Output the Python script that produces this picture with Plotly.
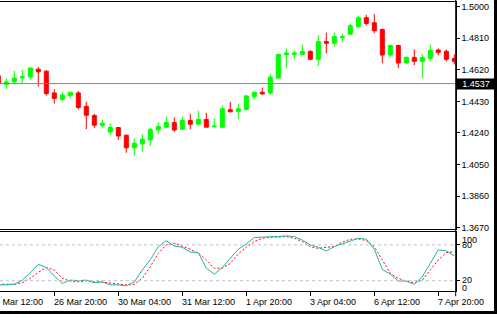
import datetime as dt
import plotly.graph_objects as go

# ---------------- data ----------------
opens = [1.4560, 1.4584, 1.4533, 1.4547, 1.4572, 1.4578, 1.4624, 1.4612, 1.4481, 1.4442,
         1.4465, 1.4481, 1.4400, 1.4345, 1.4287, 1.4246, 1.4273, 1.4226, 1.4151, 1.4174,
         1.4198, 1.4258, 1.4275, 1.4303, 1.4263, 1.4315, 1.4293, 1.4321, 1.4277, 1.4275,
         1.4380, 1.4370, 1.4382, 1.4459, 1.4485, 1.4481, 1.4570, 1.4711, 1.4713, 1.4713,
         1.4731, 1.4683, 1.4790, 1.4780, 1.4814, 1.4834, 1.4879, 1.4933, 1.4903, 1.4863,
         1.4709, 1.4766, 1.4661, 1.4695, 1.4671, 1.4689, 1.4739, 1.4731, 1.4689]
highs = [1.4592, 1.4588, 1.4570, 1.4614, 1.4620, 1.4638, 1.4638, 1.4618, 1.4505, 1.4485,
         1.4485, 1.4493, 1.4428, 1.4356, 1.4321, 1.4295, 1.4273, 1.4232, 1.4208, 1.4232,
         1.4271, 1.4303, 1.4339, 1.4333, 1.4339, 1.4356, 1.4374, 1.4362, 1.4327, 1.4404,
         1.4428, 1.4416, 1.4470, 1.4489, 1.4513, 1.4594, 1.4713, 1.4749, 1.4737, 1.4772,
         1.4737, 1.4828, 1.4844, 1.4844, 1.4838, 1.4897, 1.4945, 1.4951, 1.4956, 1.4867,
         1.4772, 1.4772, 1.4701, 1.4743, 1.4713, 1.4772, 1.4749, 1.4743, 1.4713]
lows = [1.4552, 1.4535, 1.4505, 1.4535, 1.4541, 1.4564, 1.4519, 1.4465, 1.4418, 1.4430,
        1.4448, 1.4382, 1.4263, 1.4269, 1.4275, 1.4228, 1.4198, 1.4121, 1.4103, 1.4127,
        1.4162, 1.4234, 1.4269, 1.4246, 1.4258, 1.4263, 1.4285, 1.4275, 1.4275, 1.4269,
        1.4362, 1.4323, 1.4378, 1.4442, 1.4471, 1.4471, 1.4570, 1.4630, 1.4683, 1.4707,
        1.4677, 1.4644, 1.4719, 1.4760, 1.4786, 1.4832, 1.4879, 1.4887, 1.4840, 1.4659,
        1.4695, 1.4630, 1.4659, 1.4648, 1.4570, 1.4671, 1.4707, 1.4671, 1.4653]
closes = [1.4584, 1.4539, 1.4547, 1.4570, 1.4578, 1.4630, 1.4608, 1.4477, 1.4448, 1.4469,
          1.4485, 1.4394, 1.4347, 1.4287, 1.4299, 1.4273, 1.4222, 1.4151, 1.4178, 1.4202,
          1.4261, 1.4279, 1.4303, 1.4258, 1.4315, 1.4293, 1.4321, 1.4275, 1.4281, 1.4386,
          1.4368, 1.4386, 1.4463, 1.4485, 1.4475, 1.4576, 1.4713, 1.4721, 1.4721, 1.4731,
          1.4683, 1.4790, 1.4780, 1.4820, 1.4820, 1.4885, 1.4933, 1.4899, 1.4855, 1.4709,
          1.4766, 1.4661, 1.4695, 1.4671, 1.4695, 1.4737, 1.4725, 1.4683, 1.4671]

stoch_main = [12, 12.7, 12.7, 14, 21, 33, 47.5, 42, 28, 15.5,
              21, 20, 21, 16.6, 18, 13, 13, 11.6, 18, 38,
              55, 77, 87, 78, 76, 68, 67, 41, 31, 42,
              57.6, 72.7, 81.7, 92.3, 93, 93, 94, 95, 94, 88,
              80, 76, 70, 77, 82, 87, 91, 89.5, 72.7, 39,
              31, 19.4, 19.4, 14, 26.7, 49, 71.6, 70, 61.5]
stoch_signal = [14, 14, 14, 14, 16.6, 24, 34, 42, 38, 24,
                19.4, 18, 20, 18, 17.8, 16.6, 14.4, 12.7, 14, 24,
                43.5, 66, 80, 82.8, 78, 72.7, 66, 54.8, 41, 41,
                49, 65, 76, 85.6, 91, 93, 93, 94, 91, 85.6,
                77, 74, 76, 77, 84.5, 89.5, 90, 87, 77, 54.8,
                32.3, 24, 19.4, 16.6, 21, 38, 54.8, 67, 68.8]

price_ticks = [1.5000, 1.4810, 1.4620, 1.4430, 1.4240, 1.4050, 1.3860, 1.3670]
price_line = 1.4537
stoch_levels = [80, 20]
stoch_labels = [100, 80, 20, 0]
time_labels = ["25 Mar 12:00", "26 Mar 20:00", "30 Mar 04:00", "31 Mar 12:00",
               "1 Apr 20:00", "3 Apr 04:00", "6 Apr 12:00", "7 Apr 20:00"]

# 4-hour bars, weekends skipped
times = []
t = dt.datetime(2015, 3, 25, 12)
while len(times) < len(opens):
    if t.weekday() < 5:
        times.append(t)
    t += dt.timedelta(hours=4)
time_str = [f"{d.day} {d:%b %H:%M}" for d in times]
idx = list(range(len(times)))

# ---------------- layout geometry ----------------
W, H = 497, 318
x_dom = [0, 455.7 / W]
main_dom = [1 - 232 / H, 1 - 2 / H]
ind_dom = [1 - 294.5 / H, 1 - 235.3 / H]
x_range = [1.2125, 58.175]
y2_range = [3.1, 101]
font = "Liberation Sans, Arial, sans-serif"

fig = go.Figure()
fig.add_trace(go.Candlestick(
    x=idx, open=opens, high=highs, low=lows, close=closes,
    increasing=dict(line=dict(color="#00ff00", width=1), fillcolor="#00ff00"),
    decreasing=dict(line=dict(color="#ff0000", width=1), fillcolor="#ff0000"),
    whiskerwidth=0, showlegend=False, hoverinfo="skip",
    xaxis="x", yaxis="y"))
fig.add_trace(go.Scatter(
    x=idx, y=stoch_signal, mode="lines",
    line=dict(color="#ff0000", width=1, dash="2px,2px"),
    showlegend=False, hoverinfo="skip", xaxis="x2", yaxis="y2"))
fig.add_trace(go.Scatter(
    x=idx, y=stoch_main, mode="lines",
    line=dict(color="#20b2aa", width=1),
    showlegend=False, hoverinfo="skip", xaxis="x2", yaxis="y2"))

shapes = []
shapes.append(dict(type="line", xref="x domain", x0=0, x1=1, yref="y",
                   y0=price_line, y1=price_line, line=dict(color="#778899", width=1)))
for lv in stoch_levels:
    shapes.append(dict(type="line", xref="x2 domain", x0=0, x1=1, yref="y2",
                       y0=lv, y1=lv, line=dict(color="#c0c0c0", width=1, dash="3px,3px")))
# continuous right axis line
shapes.append(dict(type="line", xref="paper", yref="paper", x0=x_dom[1], x1=x_dom[1],
                   y0=1 - 300 / H, y1=1, line=dict(color="black", width=1)))
# window frame (right and bottom)
shapes.append(dict(type="rect", xref="paper", yref="paper", x0=494 / W, x1=1, y0=0, y1=1,
                   fillcolor="black", line=dict(width=0)))
shapes.append(dict(type="rect", xref="paper", yref="paper", x0=0, x1=1, y0=0, y1=3 / H,
                   fillcolor="black", line=dict(width=0)))

annotations = []
annotations.append(dict(xref="paper", x=455.5 / W, xanchor="left", yref="y", y=price_line,
                        yanchor="middle", text=f"{price_line:.4f}", showarrow=False,
                        bgcolor="black", font=dict(color="white", size=9, family=font),
                        width=38, height=10, borderpad=0, align="center"))
shifts = {100: -7, 80: 0, 20: 1, 0: 3}
for v in stoch_labels:
    yv = min(max(v, y2_range[0]), y2_range[1])
    annotations.append(dict(xref="paper", x=461 / W, xanchor="left", yref="y2", y=yv,
                            yanchor="middle", yshift=shifts[v], text=str(v), showarrow=False,
                            font=dict(color="black", size=9, family=font), borderpad=0))
tick_pos = [time_str.index(s) for s in time_labels]
for s, p in zip(time_labels, tick_pos):
    xp = x_dom[0] + (p - x_range[0]) / (x_range[1] - x_range[0]) * (x_dom[1] - x_dom[0])
    annotations.append(dict(xref="paper", x=xp, xanchor="left", xshift=-1, yref="paper",
                            y=1 - 305.7 / H, yanchor="middle", text=s, showarrow=False,
                            font=dict(color="black", size=9, family=font), borderpad=0))

fig.update_layout(
    width=W, height=H, autosize=False,
    margin=dict(l=0, r=0, t=0, b=0),
    paper_bgcolor="white", plot_bgcolor="white",
    boxgap=0.5, boxgroupgap=0,
    hovermode=False,
    font=dict(family=font, size=9, color="black"),
    xaxis=dict(domain=x_dom, range=x_range, anchor="y", showgrid=False, zeroline=False,
               showticklabels=False, ticks="", showline=True, mirror=True,
               linecolor="black", linewidth=1, rangeslider=dict(visible=False)),
    xaxis2=dict(domain=x_dom, range=x_range, anchor="y2", matches="x", showgrid=False,
                zeroline=False, showticklabels=False, tickvals=tick_pos,
                ticks="outside", ticklen=4, tickcolor="black", showline=True, mirror=True,
                linecolor="black", linewidth=1),
    yaxis=dict(domain=main_dom, range=[1.3662, 1.5028], anchor="x", side="right",
               showgrid=False, zeroline=False, tickvals=price_ticks, tickformat=".4f",
               ticks="outside", ticklen=3, tickcolor="black", showline=True,
               linecolor="black", linewidth=1,
               tickfont=dict(family=font, size=9, color="black")),
    yaxis2=dict(domain=ind_dom, range=y2_range, anchor="x2", side="right",
                showgrid=False, zeroline=False, tickvals=stoch_levels, showticklabels=False,
                ticks="outside", ticklen=3, tickcolor="black", showline=True,
                linecolor="black", linewidth=1),
    shapes=shapes, annotations=annotations,
)

fig.write_html("out.html")
